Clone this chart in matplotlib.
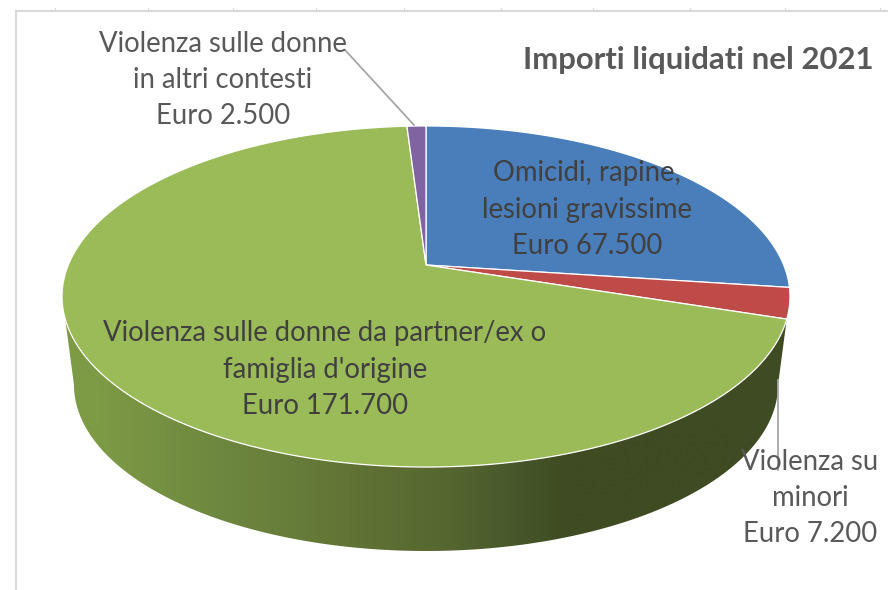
import numpy as np
import matplotlib
matplotlib.use('Agg')
import matplotlib.pyplot as plt
from matplotlib.colors import LinearSegmentedColormap
from matplotlib.patches import Polygon

plt.rcParams['font.family'] = ['Lato', 'DejaVu Sans']

# clockwise from 12 o'clock
categories = ["Omicidi, rapine,\nlesioni gravissime",
              "Violenza su\nminori",
              "Violenza sulle donne da partner/ex o\nfamiglia d'origine",
              "Violenza sulle donne\nin altri contesti"]
values = [67500, 7200, 171700, 2500]
amounts = ["Euro 67.500", "Euro 7.200", "Euro 171.700", "Euro 2.500"]
colors = ['#4a7ebb', '#be4b48', '#9bbb59', '#8064a2']
title = "Importi liquidati nel 2021"

label_xy = [(587, 210), (810, 498), (325, 370), (223, 80)]
label_col = ['#404040', '#595959', '#404040', '#595959']
top_ticks = [55, 148, 233, 316, 404, 501, 593, 690, 785, 880]

# pie top as a tilted disc, apex sits above the middle of the ellipse
cx, cy = 426, 265
k = 0.1848
rx, ry = 357.7, 164.7


def disc(deg):
    a = np.radians(deg)
    u, v = np.sin(a), np.cos(a)
    return cx + rx * u / (1 + k * v), cy - ry * v / (1 + k * v)


fig = plt.figure(figsize=(8.88, 5.90), dpi=100)
ax = fig.add_axes([0, 0, 1, 1])
ax.set_xlim(0, 888)
ax.set_ylim(590, 0)
ax.axis('off')

# frame of the sheet
ax.plot([16, 16], [11, 590], color='#d9d9d9', lw=1.5)
ax.plot([16, 888], [11, 11], color='#d9d9d9', lw=1.5)
for t in top_ticks:
    ax.plot([t, t], [8, 11], color='#d9d9d9', lw=0.8)

# side wall with the shading
cum = np.cumsum([0] + values) / sum(values) * 360
ang = np.linspace(cum[2], 252, 200)
top_x, top_y = disc(ang)
b = np.linspace(np.pi, 0, 200)
bot_x = 426 + 352 * np.cos(b)
bot_y = 385 + 166 * np.sin(b)
wall = np.column_stack([np.r_[top_x, bot_x], np.r_[top_y, bot_y]])
shade = LinearSegmentedColormap.from_list('wall', [
    (0.00, '#7d9a45'), (0.05, '#7d9a45'), (0.19, '#708a40'), (0.44, '#5d6f33'),
    (0.535, '#556630'), (0.63, '#46562a'), (0.70, '#3f4b22'), (1.00, '#3f4b22')])
im = ax.imshow(np.linspace(0, 1, 256)[None, :], cmap=shade, aspect='auto',
               extent=[64, 786, 560, 300], zorder=2)
clip = Polygon(wall, closed=True, transform=ax.transData, fc='none', ec='none')
ax.add_patch(clip)
im.set_clip_path(clip)
ax.set_xlim(0, 888)
ax.set_ylim(590, 0)

# top of the pie
for i in range(len(values)):
    a = np.linspace(cum[i], cum[i + 1], 300)
    x, y = disc(a)
    ax.fill(np.r_[cx, x], np.r_[cy, y], color=colors[i], ec='white', lw=0.9,
            zorder=3)

# leader lines
ax.plot([345, 414], [50, 125], color='#a6a6a6', lw=1.3, zorder=4)
ax.plot([778, 778], [380, 470], color='#a6a6a6', lw=1.3, zorder=4)

for i in range(len(values)):
    ax.text(label_xy[i][0], label_xy[i][1], categories[i] + "\n" + amounts[i],
            ha='center', va='center', fontsize=19.8, color=label_col[i],
            linespacing=1.5, zorder=5)

ax.text(698, 60, title, ha='center', va='center', fontsize=22.4,
        fontweight='bold', color='#595959', zorder=5)

fig.savefig('out.png', dpi=100)
